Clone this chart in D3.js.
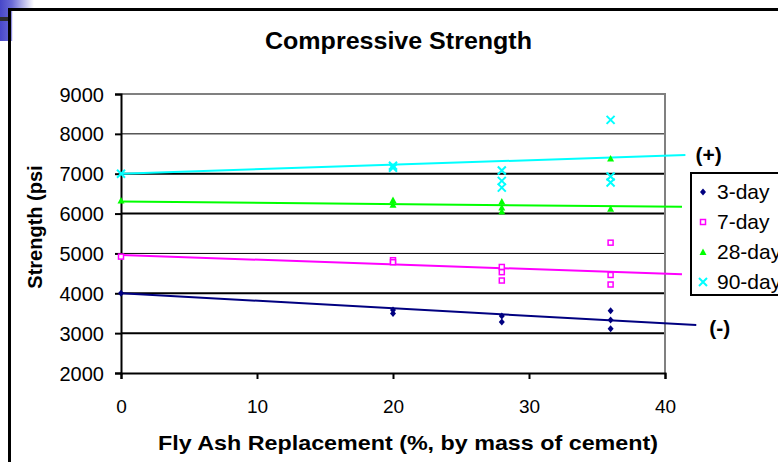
<!DOCTYPE html>
<html>
<head>
<meta charset="utf-8">
<script src="https://cdn.jsdelivr.net/npm/d3@7"></script>
<style>
  html, body { margin: 0; padding: 0; background: #fff; overflow: hidden; }
  text { font-family: "Liberation Sans", Arial, sans-serif; }
</style>
</head>
<body>
<svg id="chart" width="778" height="462"></svg>
<script>
// Compressive strength of concrete vs. fly ash replacement level
const seriesNames = ["3-day", "7-day", "28-day", "90-day"];

const flyAsh3   = [0, 20, 20, 28, 28, 36, 36, 36];
const strength3 = [4000, 3580, 3490, 3430, 3280, 3560, 3330, 3110];

const flyAsh7   = [0, 20, 20, 28, 28, 28, 36, 36, 36];
const strength7 = [4920, 4830, 4780, 4660, 4530, 4320, 5270, 4460, 4220];

const flyAsh28   = [0, 20, 20, 28, 28, 28, 36, 36];
const strength28 = [6330, 6340, 6220, 6300, 6150, 6050, 7380, 6120];

const flyAsh90   = [0, 20, 20, 28, 28, 28, 36, 36, 36];
const strength90 = [7000, 7200, 7150, 7080, 6820, 6650, 8350, 6930, 6780];

// Linear trend lines: value at 0 % and at the end of the drawn extent
const trendStart = [4000, 4960, 6300, 7000];
const trendEnd   = [3204, 4476, 6172, 7469];
const trendEndX  = [42.3, 41.25, 41.25, 41.5];
const trendNotes = ["(-)", null, null, "(+)"];

const xTicks = [0, 10, 20, 30, 40];
const yTicks = [2000, 3000, 4000, 5000, 6000, 7000, 8000, 9000];

const titleText = "Compressive Strength";
const xTitle = "Fly Ash Replacement (%, by mass of cement)";
const yTitle = "Strength (psi";

const colors = ["#000080", "#FF00FF", "#00FF00", "#00FFFF"];
const shapes = ["diamond", "square", "triangle", "cross"];

const seriesX = [flyAsh3, flyAsh7, flyAsh28, flyAsh90];
const seriesY = [strength3, strength7, strength28, strength90];

const svg = d3.select("#chart");

// slide corner decoration
const defs = svg.append("defs");
const grad = defs.append("linearGradient").attr("id", "corner").attr("x1", "0").attr("x2", "1").attr("y1", "0").attr("y2", "0");
grad.append("stop").attr("offset", "0").attr("stop-color", "#4747c9");
grad.append("stop").attr("offset", "0.35").attr("stop-color", "#6b6bd6");
grad.append("stop").attr("offset", "1").attr("stop-color", "#ffffff");
svg.append("rect").attr("x", 0).attr("y", 0).attr("width", 34).attr("height", 41).attr("fill", "url(#corner)");
svg.append("rect").attr("x", 0).attr("y", 17).attr("width", 9).attr("height", 4).attr("fill", "#2e2e2e");

// chart frame
svg.append("rect").attr("x", 9.5).attr("y", 9.5).attr("width", 820).attr("height", 520)
  .attr("fill", "#fff").attr("stroke", "#000").attr("stroke-width", 3);
svg.append("rect").attr("x", 11).attr("y", 11).attr("width", 1.2).attr("height", 30).attr("fill", "#8f8fe2");

const x = d3.scaleLinear().domain([0, 40]).range([121, 665]);
const y = d3.scaleLinear().domain([2000, 9000]).range([373, 94]);

// gridlines
const heavy = new Set([3000, 4000, 6000, 7000]);
svg.append("g").selectAll("line")
  .data(yTicks.filter(v => v > 2000 && v < 9000))
  .join("line")
  .attr("x1", x(0)).attr("x2", x(40))
  .attr("y1", d => y(d)).attr("y2", d => y(d))
  .attr("stroke", "#000")
  .attr("stroke-width", d => heavy.has(d) ? 2 : 1);

// plot area border (top and right)
svg.append("path")
  .attr("d", `M${x(0)},${y(9000)}H${x(40)}V${y(2000)}`)
  .attr("fill", "none").attr("stroke", "#808080").attr("stroke-width", 2);

// axes
const yAxis = svg.append("g").attr("transform", `translate(${x(0)},0)`)
  .call(d3.axisLeft(y).tickValues(yTicks).tickSize(6).tickPadding(11).tickFormat(d3.format("d")));
const xAxis = svg.append("g").attr("transform", `translate(0,${y(2000)})`)
  .call(d3.axisBottom(x).tickValues(xTicks).tickSize(6).tickPadding(21).tickFormat(d3.format("d")));
[yAxis, xAxis].forEach(g => {
  g.select(".domain").attr("stroke", "#000").attr("stroke-width", 2);
  g.selectAll(".tick line").attr("stroke", "#000").attr("stroke-width", 2);
  g.selectAll("text").attr("fill", "#000").style("font-family", "'Liberation Sans', Arial, sans-serif");
});
yAxis.selectAll("text").attr("font-size", 20).attr("dy", "0.35em");
xAxis.selectAll("text").attr("font-size", 19);

// trend lines
const line = d3.line().x(d => x(d[0])).y(d => y(d[1]));
seriesNames.forEach((s, i) => {
  svg.append("path")
    .attr("d", line([[0, trendStart[i]], [trendEndX[i], trendEnd[i]]]))
    .attr("fill", "none").attr("stroke", colors[i]).attr("stroke-width", 2);
});

// marker shapes
function marker(g, shape, color) {
  if (shape === "diamond") {
    g.append("path").attr("d", "M0,-3.5L3,0L0,3.5L-3,0Z").attr("fill", color);
  } else if (shape === "square") {
    g.append("rect").attr("x", -2.5).attr("y", -2.5).attr("width", 5).attr("height", 5)
      .attr("fill", "#fff").attr("stroke", color).attr("stroke-width", 1.5);
  } else if (shape === "triangle") {
    g.append("path").attr("d", "M0,-3.5L3.5,3L-3.5,3Z").attr("fill", color);
  } else {
    g.append("path").attr("d", "M-4,-4L4,4M-4,4L4,-4").attr("stroke", color).attr("stroke-width", 2).attr("fill", "none");
  }
}

seriesNames.forEach((s, i) => {
  const pts = seriesX[i].map((v, j) => [v, seriesY[i][j]]);
  svg.append("g").selectAll("g").data(pts).join("g")
    .attr("transform", d => `translate(${x(d[0])},${y(d[1])})`)
    .each(function () { marker(d3.select(this), shapes[i], colors[i]); });
});

// trend annotations
trendNotes.forEach((t, i) => {
  if (!t) return;
  svg.append("text")
    .attr("x", x(trendEndX[i]) + (i === 0 ? 13 : 10))
    .attr("y", y(trendEnd[i]) + (i === 0 ? 3 : 0))
    .attr("dy", "0.35em")
    .attr("font-size", 21).attr("font-weight", "bold").text(t);
});

// legend (runs off the right edge of the chart area)
const legend = svg.append("g").attr("transform", "translate(691,173)");
legend.append("rect").attr("width", 120).attr("height", 122)
  .attr("fill", "#fff").attr("stroke", "#000").attr("stroke-width", 2);
seriesNames.forEach((s, i) => {
  const row = legend.append("g").attr("transform", `translate(12,${19 + i * 30})`);
  const m = row.append("g");
  marker(m, shapes[i], colors[i]);
  row.append("text").attr("x", 14).attr("dy", "0.35em").attr("font-size", 21).text(s);
});

// titles
svg.append("text").attr("x", 398.5).attr("y", 49).attr("text-anchor", "middle")
  .attr("font-size", 23).attr("font-weight", "bold")
  .attr("textLength", 267).attr("lengthAdjust", "spacingAndGlyphs").text(titleText);
svg.append("text").attr("x", 408).attr("y", 450).attr("text-anchor", "middle")
  .attr("font-size", 21).attr("font-weight", "bold")
  .attr("textLength", 500).attr("lengthAdjust", "spacingAndGlyphs").text(xTitle);
svg.append("text").attr("transform", "translate(35,227) rotate(-90)")
  .attr("text-anchor", "middle").attr("dy", "0.35em")
  .attr("font-size", 20).attr("font-weight", "bold").text(yTitle);
</script>
</body>
</html>
